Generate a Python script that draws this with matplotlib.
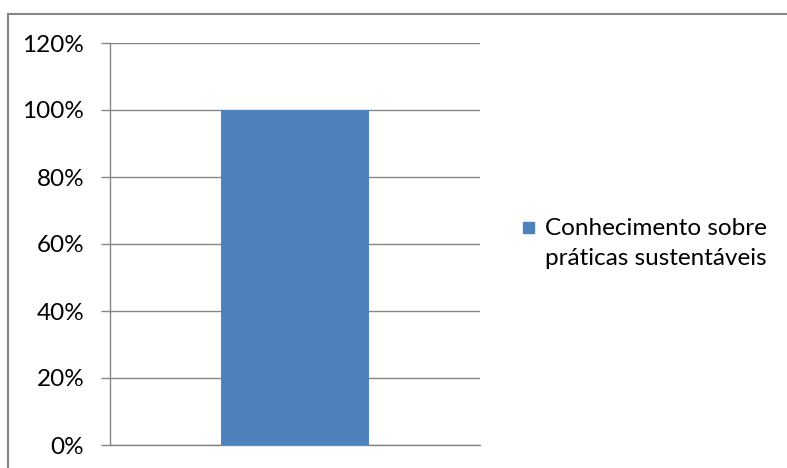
import matplotlib
matplotlib.use("Agg")
import matplotlib.pyplot as plt
from matplotlib.patches import Rectangle
from matplotlib.lines import Line2D
from matplotlib.ticker import FuncFormatter

categories = [""]
values = [1.0]
series_lines = ["Conhecimento sobre", "práticas sustentáveis"]
y_ticks = [0, 0.2, 0.4, 0.6, 0.8, 1.0, 1.2]

W, H = 787, 468
fig = plt.figure(figsize=(W / 100, H / 100), dpi=100)
plt.rcParams["font.family"] = ["Lato", "DejaVu Sans"]

grey = "#868686"
bar_color = "#4F81BD"
fs = 17.5

ax = fig.add_axes([110 / W, 1 - 445 / H, (480 - 110) / W, (445 - 43) / H])
ax.bar(range(len(categories)), values, width=0.4, color=bar_color, zorder=3)
ax.set_xlim(-0.5, len(categories) - 0.5)
ax.set_ylim(0, 1.2)
ax.set_yticks(y_ticks)
ax.yaxis.set_major_formatter(FuncFormatter(lambda v, p: f"{v * 100:.0f}%"))
ax.set_xticks([])
ax.grid(axis="y", color=grey, linewidth=1.0, zorder=0)
ax.tick_params(axis="y", length=6.5, width=1.0, color=grey, labelsize=fs,
               pad=12, labelcolor="black")
for side in ("top", "right"):
    ax.spines[side].set_visible(False)
for side in ("left", "bottom"):
    ax.spines[side].set_color(grey)
    ax.spines[side].set_linewidth(1.0)

# chart frame
fig.add_artist(Line2D([8 / W, 1.0], [1 - 14 / H, 1 - 14 / H], color=grey,
                      linewidth=1.5, transform=fig.transFigure))
fig.add_artist(Line2D([8 / W, 8 / W], [1 - 14 / H, 0.0], color=grey,
                      linewidth=1.5, transform=fig.transFigure))

# legend
fig.add_artist(Rectangle((523 / W, 1 - 233 / H), 11 / W, 11 / H,
                         color=bar_color, transform=fig.transFigure))
for i, line in enumerate(series_lines):
    fig.text(545 / W, 1 - (235 + 30 * i) / H, line, ha="left",
             va="baseline", fontsize=fs, color="black")

fig.savefig("out.png", dpi=100)
